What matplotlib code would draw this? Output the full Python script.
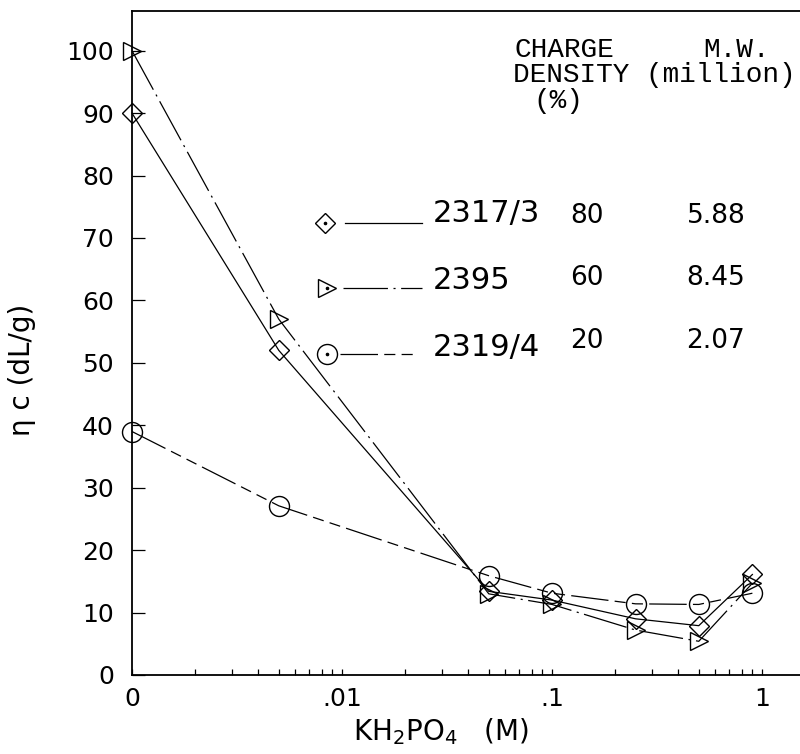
import numpy as np
import matplotlib
matplotlib.use("Agg")
import matplotlib.pyplot as plt
from matplotlib.ticker import FixedLocator, FixedFormatter, LogLocator, NullFormatter

plt.rcParams["lines.scale_dashes"] = False

# --- Data: reduced viscosity vs KH2PO4 concentration (0 plotted at 0.001) ---
conc = [0.001, 0.005, 0.05, 0.1, 0.25, 0.5, 0.9]
eta_2317 = [90, 52, 13.4, 12.0, 9.0, 7.9, 16.1]
eta_2395 = [100, 57, 13.0, 11.3, 7.2, 5.4, 14.7]
eta_2319 = [39, 27.1, 15.9, 13.1, 11.4, 11.3, 13.1]

series_names = ["2317/3", "2395", "2319/4"]
charge_density = ["80", "60", "20"]
mol_weight = ["5.88", "8.45", "2.07"]

x_ticks = [0.001, 0.01, 0.1, 1]
x_ticklabels = ["0", ".01", ".1", "1"]
y_ticks = list(range(0, 101, 10))

# line styles
solid = "-"
dash_dot = (0, (32, 4, 1.5, 4))
long_short = (0, (27, 4.5, 8, 4.5, 8, 4.5))

W, H = 800, 754
fig = plt.figure(figsize=(8, 7.54), dpi=100)
ax = fig.add_axes([132 / W, 1 - 675 / H, 668 / W, (675 - 10.7) / H])


def fpos(x, y):
    # pixel position -> figure fraction
    return x / W, 1 - y / H


lw, mew = 0.9, 1.0
ax.plot(conc, eta_2317, linestyle=solid, color="black", lw=lw,
        marker="D", ms=9.8, mfc="none", mec="black", mew=mew, clip_on=False)
ax.plot(conc, eta_2395, linestyle=dash_dot, color="black", lw=lw,
        marker=">", ms=12.5, mfc="none", mec="black", mew=mew, clip_on=False)
ax.plot(conc, eta_2319, linestyle=long_short, color="black", lw=lw,
        marker="o", ms=14.4, mfc="none", mec="black", mew=mew, clip_on=False)

ax.set_xscale("log")
ax.set_xlim(0.001, 10 ** (-3 + 668 / 210))
ax.set_ylim(0, (675 - 10.7) / 6.243)

ax.xaxis.set_major_locator(FixedLocator(x_ticks))
ax.xaxis.set_major_formatter(FixedFormatter(x_ticklabels))
ax.xaxis.set_minor_locator(LogLocator(base=10, subs=np.arange(2, 10)))
ax.xaxis.set_minor_formatter(NullFormatter())
ax.set_yticks(y_ticks)

ax.tick_params(axis="x", which="both", direction="in", length=4, width=0.9,
               labelsize=18, pad=9)
ax.tick_params(axis="y", which="major", direction="in", length=9, width=0.9,
               labelsize=18, pad=13)

for side in ["left", "bottom", "top"]:
    ax.spines[side].set_linewidth(1.3)
ax.spines["right"].set_visible(False)

ax.set_xlabel(r"KH$_2$PO$_4$   (M)", fontsize=20)
ax.xaxis.set_label_coords((441 - 132) / 668, -0.062)
ax.set_ylabel("η c (dL/g)", fontsize=20)
ax.yaxis.set_label_coords((36 - 132) / 668, 0.459)

# --- Key with header columns ---
mono = "Liberation Mono"
for txt, x, y in [("CHARGE", 515, 50), ("M.W.", 703, 50),
                  ("DENSITY (million)", 513, 75), ("(%)", 533, 101)]:
    fig.text(*fpos(x, y), txt, family=mono, fontsize=20, ha="left", va="center")

key_markers = ["D", ">", "o"]
key_ms = [9.8, 12.5, 14.4]
key_styles = [solid, dash_dot, long_short]
key_marker_xy = [(325, 223), (327, 288), (327, 354)]
key_line_x = [(345, 422), (343, 422), (340, 413)]
key_name_y = [214, 280, 347]
key_num_y = [216, 278, 341]

for i in range(3):
    mx, my = key_marker_xy[i]
    fx, fy = fpos(mx, my)
    ax.plot([fx], [fy], transform=fig.transFigure, marker=key_markers[i],
            ms=key_ms[i], mfc="none", mec="black", mew=mew, clip_on=False)
    ax.plot([fx], [fy], transform=fig.transFigure, marker="o", ms=1.6,
            color="black", clip_on=False)
    x0, x1 = key_line_x[i]
    ax.plot([x0 / W, x1 / W], [fy, fy], transform=fig.transFigure,
            linestyle=key_styles[i], color="black", lw=lw, clip_on=False)
    fig.text(*fpos(433, key_name_y[i]), series_names[i], fontsize=22,
             ha="left", va="center")
    fig.text(*fpos(587, key_num_y[i]), charge_density[i], fontsize=19,
             ha="center", va="center")
    fig.text(*fpos(716, key_num_y[i]), mol_weight[i], fontsize=19,
             ha="center", va="center")

fig.savefig("out.png", dpi=100)
